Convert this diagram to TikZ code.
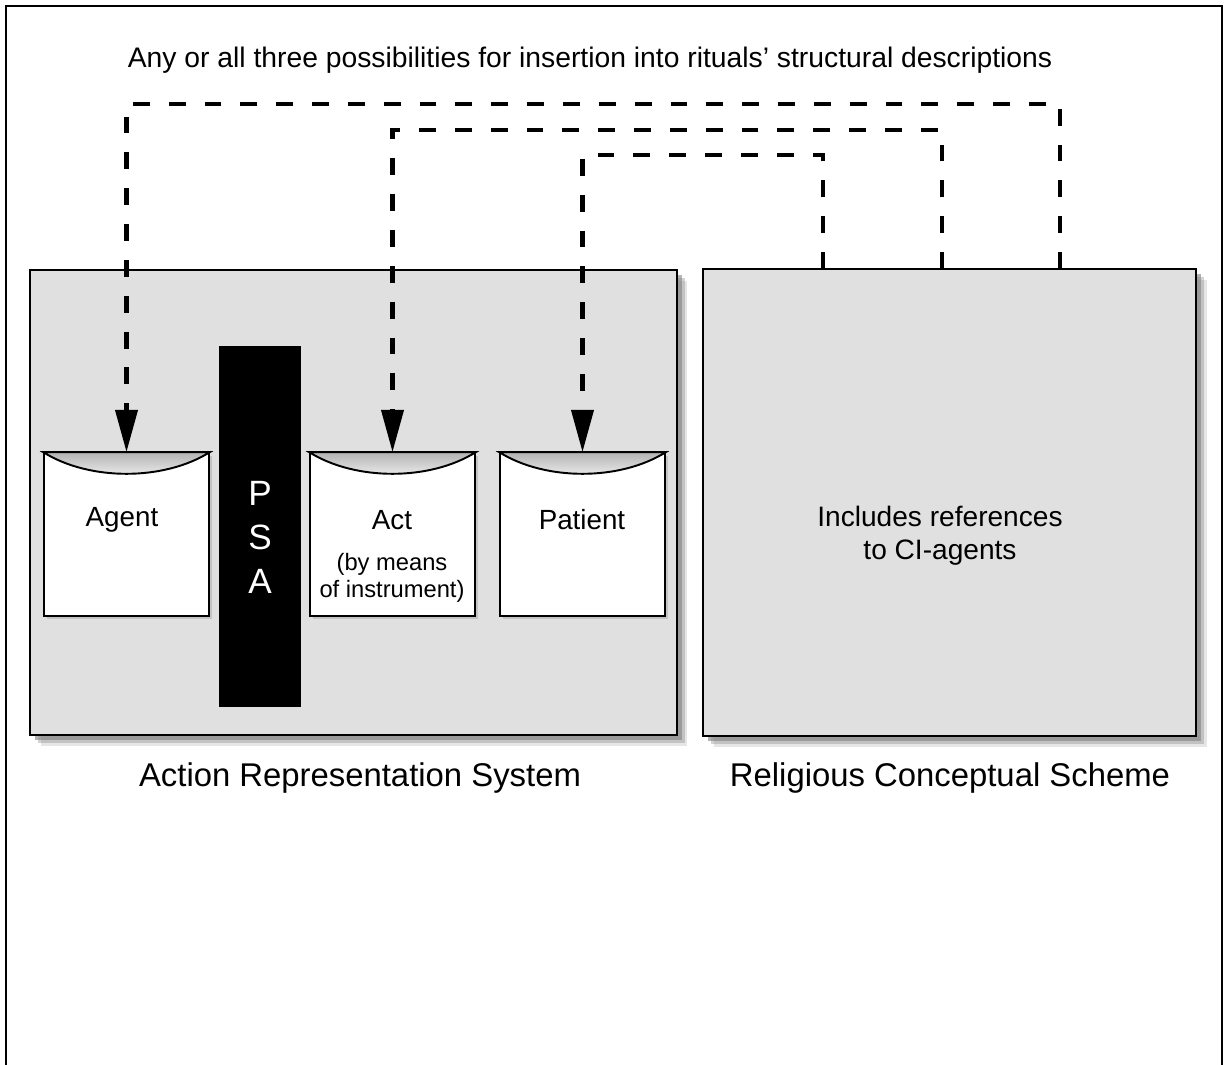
\documentclass[tikz,border=0pt]{standalone}
\usepackage{fontspec}
\setmainfont{Liberation Sans}
\usetikzlibrary{arrows.meta,shadows}
\definecolor{panelgray}{RGB}{224,224,224}
\begin{document}
\begin{tikzpicture}[x=0.02cm,y=-0.02cm,
  panel/.style={draw,line width=1.5pt,fill=panelgray,inner sep=0pt,
    drop shadow={shadow xshift=6pt,shadow yshift=-6pt,opacity=.2},
    drop shadow={shadow xshift=4.5pt,shadow yshift=-4.5pt,opacity=.35},
    drop shadow={shadow xshift=3pt,shadow yshift=-3pt,opacity=.6}},
  slot/.style={draw,line width=1.1pt,fill=white,inner sep=0pt,
    minimum width=3.3cm,minimum height=3.26cm,
    drop shadow={shadow xshift=1.5pt,shadow yshift=-1.5pt,opacity=.3}},
  slotcap/.style={line width=1.1pt,top color=gray!60,bottom color=gray!5},
  link/.style={line width=2.3pt,dash pattern=on 9.6pt off 10.8pt,
    -{Triangle[length=24pt,width=12.5pt]}},
  slottext/.style={font=\fontsize{15.8}{19}\selectfont},
  smalltext/.style={font=\fontsize{13.5}{15.3}\selectfont,align=center},
  caption/.style={font=\fontsize{18.7}{22}\selectfont}]
\useasboundingbox (0,0) rectangle (1225,1065);
\draw[line width=1.3pt] (6,1065) -- (6,6) -- (1222,6) -- (1222,1065);
\node[font=\fontsize{16.1}{19}\selectfont] (title) at (590,60)
  {Any or all three possibilities for insertion into rituals’ structural descriptions};
\node[panel,minimum width=12.94cm,minimum height=9.3cm] (ars) at (353.5,502.5) {};
\node[panel,minimum width=9.86cm,minimum height=9.34cm] (rcs) at (949.5,502.5) {};
\node[caption] (arslabel) at (360,778) {Action Representation System};
\node[caption] (rcslabel) at (950,778) {Religious Conceptual Scheme};
\node[draw,fill=black,minimum width=1.62cm,minimum height=7.2cm] (psa) at (259.5,526) {};
\node[white,font=\fontsize{20}{25}\selectfont,align=center] (psatext) at (260,537) {P\\S\\A};
\node[slot] (agent) at (126.5,534.5) {};
\node[slot] (act) at (392.5,534.5) {};
\node[slot] (patient) at (582.5,534.5) {};
\foreach \s in {agent,act,patient}
  \draw[slotcap] (\s.north west) .. controls +(46,29) and +(-46,29) .. (\s.north east) -- cycle;
\node[slottext] (agenttext) at (122,520) {Agent};
\node[slottext] (acttext) at (392,520) {Act};
\node[smalltext] (actnote) at (392,578) {(by means\\of instrument)};
\node[slottext] (patienttext) at (582,520) {Patient};
\node[font=\fontsize{16}{18.7}\selectfont,align=center] (rcstext) at (940,536)
  {Includes references\\to CI-agents};
\coordinate (top1) at (0,104);
\coordinate (top2) at (0,130);
\coordinate (top3) at (0,155);
\coordinate (from1) at (1060,269);
\coordinate (from2) at (942,269);
\coordinate (from3) at (823,269);
\draw[link] (from1) -- (from1 |- top1) -- (agent.north |- top1) -- (agent.north);
\draw[link] (from2) -- (from2 |- top2) -- (act.north |- top2) -- (act.north);
\draw[link] (from3) -- (from3 |- top3) -- (patient.north |- top3) -- (patient.north);
\end{tikzpicture}
\end{document}
